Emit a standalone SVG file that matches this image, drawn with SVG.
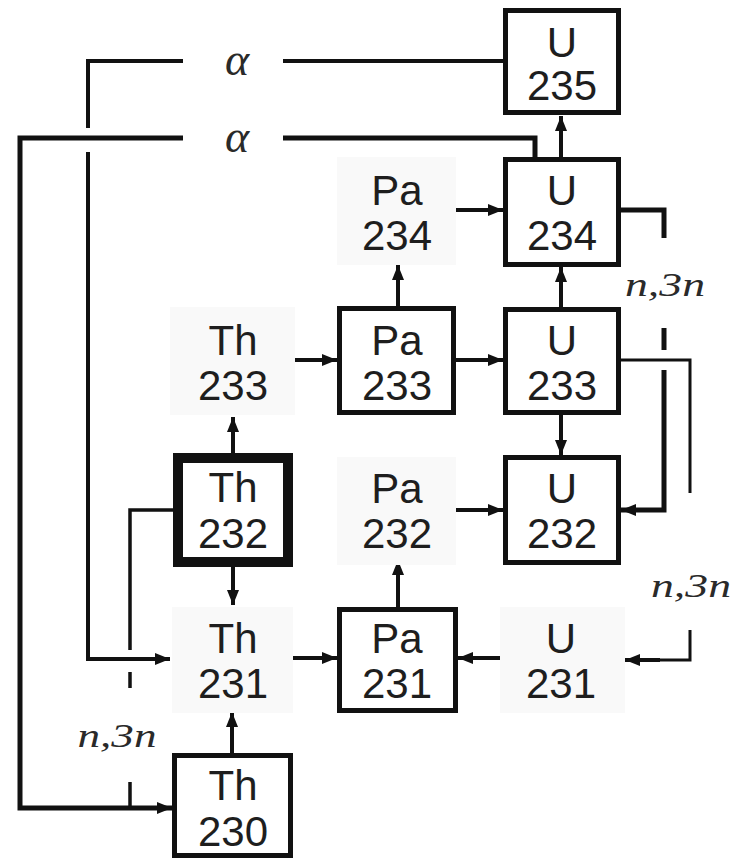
<svg xmlns="http://www.w3.org/2000/svg" width="736" height="859" viewBox="0 0 736 859">
<style>
.bg{fill:#ffffff}
.box{fill:#ffffff;stroke:#111;stroke-width:5}
.box2{fill:#ffffff;stroke:#111;stroke-width:10}
.lbl{fill:#f9f9f9;stroke:none}
.t{font-family:"Liberation Sans",Arial,sans-serif;font-size:42px;fill:#1e1e1e;text-anchor:middle}
.g{font-family:"Liberation Serif","Times New Roman",serif;font-style:italic;fill:#2a2a2a;text-anchor:middle}
.c{fill:none;stroke:#111;stroke-width:4;stroke-linejoin:miter}
.a{marker-end:url(#ah)}
</style>
<defs>
<marker id="ah" markerUnits="userSpaceOnUse" markerWidth="16" markerHeight="14" refX="15" refY="7" orient="auto">
<path d="M0,1 L15,7 L0,13 z" fill="#111"/>
</marker>
</defs>
<rect class="bg" x="0" y="0" width="736" height="859"/>

<g id="connectors">
<path class="c" d="M503,61 H283 M183,61 H88 V128 M88,152 V659 H170"/>
<path class="c a" d="M88,659 H170"/>
<path class="c" style="stroke-width:5" d="M535,157 V138 H283 M183,138 H20 V808 H172"/>
<path class="c a" d="M130,808 H172"/>
<path class="c" style="stroke-width:3.5" d="M173,510 H130 V650 M130,672 V688 M130,782 V808"/>
<path class="c" style="stroke-width:5" d="M621,210 H664 V238 M664,328 V350 M664,370 V510 H621"/>
<path class="c a" d="M650,510 H621"/>
<path class="c" style="stroke-width:3" d="M621,360 H690 V493 M690,630 V660 H625"/>
<path class="c a" d="M660,660 H625"/>
<path class="c a" d="M561,157 V116"/>
<path class="c a" d="M455,210 H503"/>
<path class="c a" d="M290,360 H337"/>
<path class="c a" d="M456,360 H503"/>
<path class="c a" d="M398,306 V265"/>
<path class="c a" d="M561,307 V267"/>
<path class="c a" d="M561,415 V455"/>
<path class="c a" d="M233,453 V417"/>
<path class="c a" d="M456,510 H503"/>
<path class="c a" d="M398,607 V560"/>
<path class="c a" d="M508,658 H458"/>
<path class="c a" d="M290,658 H337"/>
<path class="c a" d="M233,567 V605"/>
<path class="c a" d="M232,753 V712"/>
<text class="g" x="237" y="75" font-size="46">α</text>
<text class="g" x="237" y="152" font-size="46">α</text>
<text class="g" x="665" y="296" font-size="33" textLength="80" lengthAdjust="spacingAndGlyphs">n,3n</text>
<text class="g" x="117" y="747" font-size="33" textLength="79" lengthAdjust="spacingAndGlyphs">n,3n</text>
<text class="g" x="691" y="597" font-size="33" textLength="80" lengthAdjust="spacingAndGlyphs">n,3n</text>
</g>

<g id="U235"><rect class="box" x="505.5" y="10.5" width="113" height="102"/><text class="t" x="562" y="57">U</text><text class="t" x="562" y="100">235</text></g>
<g id="U234"><rect class="box" x="505.5" y="159.5" width="113" height="105"/><text class="t" x="562" y="205">U</text><text class="t" x="562" y="250">234</text></g>
<g id="Pa234"><rect class="lbl" x="337" y="157" width="119" height="108"/><text class="t" x="397" y="205">Pa</text><text class="t" x="397" y="250">234</text></g>
<g id="Th233"><rect class="lbl" x="170" y="307" width="125" height="108"/><text class="t" x="233" y="355">Th</text><text class="t" x="233" y="400">233</text></g>
<g id="Pa233"><rect class="box" x="339.5" y="308.5" width="114" height="104"/><text class="t" x="397" y="355">Pa</text><text class="t" x="397" y="400">233</text></g>
<g id="U233"><rect class="box" x="505.5" y="309.5" width="113" height="103"/><text class="t" x="562" y="355">U</text><text class="t" x="562" y="400">233</text></g>
<g id="Th232"><rect class="box2" x="178" y="458" width="110" height="104"/><text class="t" x="233" y="502">Th</text><text class="t" x="233" y="548">232</text></g>
<g id="Pa232"><rect class="lbl" x="337" y="457" width="119" height="108"/><text class="t" x="397" y="503">Pa</text><text class="t" x="397" y="548">232</text></g>
<g id="U232"><rect class="box" x="505.5" y="457.5" width="113" height="105"/><text class="t" x="562" y="503">U</text><text class="t" x="562" y="548">232</text></g>
<g id="Th231"><rect class="lbl" x="172" y="607" width="121" height="106"/><text class="t" x="233" y="653">Th</text><text class="t" x="233" y="698">231</text></g>
<g id="Pa231"><rect class="box" x="339.5" y="609.5" width="116" height="101"/><text class="t" x="397" y="653">Pa</text><text class="t" x="397" y="698">231</text></g>
<g id="U231"><rect class="lbl" x="500" y="607" width="125" height="106"/><text class="t" x="561" y="653">U</text><text class="t" x="561" y="698">231</text></g>
<g id="Th230"><rect class="box" x="174.5" y="755.5" width="116" height="100"/><text class="t" x="233" y="800">Th</text><text class="t" x="233" y="846">230</text></g>
</svg>
